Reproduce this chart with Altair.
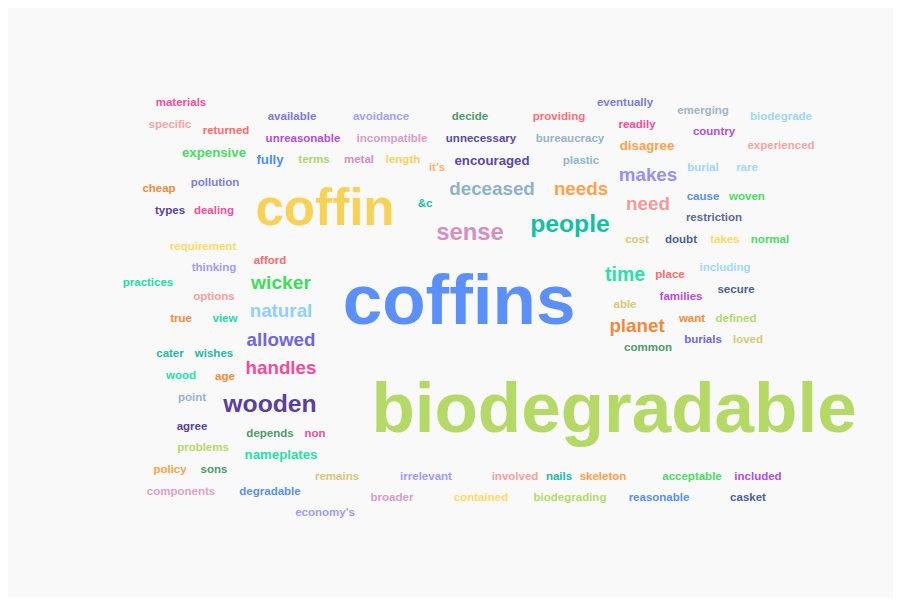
import altair as alt
import pandas as pd

words = [
    "coffins", "biodegradable", "coffin", "people", "sense", "wooden",
    "deceased", "needs", "makes", "need", "time", "planet",
    "wicker", "natural", "allowed", "handles",
    "expensive", "fully", "encouraged", "disagree", "nameplates",
    "materials", "specific", "returned", "cheap", "pollution", "types", "dealing",
    "available", "unreasonable", "terms", "metal", "length", "avoidance",
    "incompatible", "it's", "&c", "decide", "providing", "eventually", "readily",
    "unnecessary", "bureaucracy", "plastic", "emerging", "biodegrade", "country",
    "experienced", "burial", "rare", "cause", "woven", "restriction", "cost",
    "doubt", "takes", "normal", "requirement", "afford", "thinking", "practices",
    "options", "true", "view", "cater", "wishes", "wood", "age", "point",
    "agree", "depends", "non", "problems", "policy", "sons", "remains",
    "irrelevant", "components", "degradable", "broader", "economy's",
    "involved", "nails", "skeleton", "acceptable", "included", "contained",
    "biodegrading", "reasonable", "casket", "place", "including", "families",
    "secure", "able", "want", "defined", "burials", "loved", "common",
]

freq = [
    28, 28, 19, 7, 6.6, 7,
    4.3, 4.3, 4.3, 4.3, 4.6, 4.3,
    4.5, 4.3, 4.3, 4.3,
    1.8, 1.8, 1.8, 1.8, 1.8,
    1, 1, 1, 1, 1, 1, 1,
    1, 1, 1, 1, 1, 1,
    1, 1, 1, 1, 1, 1, 1,
    1, 1, 1, 1, 1, 1,
    1, 1, 1, 1, 1, 1, 1,
    1, 1, 1, 1, 1, 1, 1,
    1, 1, 1, 1, 1, 1, 1, 1,
    1, 1, 1, 1, 1, 1, 1,
    1, 1, 1, 1, 1,
    1, 1, 1, 1, 1, 1,
    1, 1, 1, 1, 1, 1,
    1, 1, 1, 1, 1, 1, 1,
]

xpos = [
    459, 614, 325, 570, 470, 270,
    492, 581, 648, 648, 625, 637,
    281, 281, 281, 281,
    214, 270, 492, 647, 281,
    181, 170, 226, 159, 215, 170, 214,
    292, 303, 314, 359, 403, 381,
    392, 437, 425, 470, 559, 625, 637,
    481, 570, 581, 703, 781, 714,
    781, 703, 747, 703, 747, 714, 637,
    681, 725, 770, 203, 270, 214, 148,
    214, 181, 225, 170, 214, 181, 225, 192,
    192, 270, 315, 203, 170, 214, 337,
    426, 181, 270, 392, 325,
    515, 559, 603, 692, 758, 481,
    570, 659, 748, 670, 725, 681,
    736, 625, 692, 736, 703, 748, 648,
]

ypos = [
    302, 410, 209, 224, 232, 404,
    188, 188, 174, 203, 274, 325,
    282, 310, 339, 367,
    152, 159, 160, 145, 454,
    102, 124, 130, 188, 182, 210, 210,
    116, 138, 159, 159, 159, 116,
    138, 167, 203, 116, 116, 102, 124,
    138, 138, 160, 110, 116, 131,
    145, 167, 167, 196, 196, 217, 239,
    239, 239, 239, 246, 260, 267, 282,
    296, 318, 318, 353, 353, 375, 376, 397,
    426, 433, 433, 447, 469, 469, 476,
    476, 491, 491, 497, 512,
    476, 476, 476, 476, 476, 497,
    497, 497, 497, 274, 267, 296,
    289, 304, 318, 318, 339, 339, 347,
]

colors = [
    "#5b8ff9", "#b5d966", "#f8d257", "#14bfa6", "#d690c0", "#5a3f9b",
    "#8fb2cc", "#ffa24e", "#9790f6", "#f59a98", "#28e0aa", "#f0893d",
    "#3ddc5a", "#8fd0ff", "#7067d8", "#f04d9a",
    "#4cd964", "#4f8ff7", "#5d48a2", "#ffa04c", "#26e0a8",
    "#f0509c", "#f7a5a0", "#ff6b6b", "#f08a3c", "#7a7fe0", "#5b3f99", "#f0509c",
    "#7b78d9", "#b24fd8", "#a8d86a", "#d48fc0", "#f7d060", "#a4a0f5",
    "#d99bc8", "#ffb26b", "#1bbfa5", "#4e9a6a", "#ff6e7a", "#7d7be6", "#f04d9a",
    "#5b4aa0", "#95b5cc", "#8fb6cc", "#9fb6c8", "#9fd4ff", "#b24fd8",
    "#f5a5a0", "#9fd4ff", "#a4d6ff", "#5b8ef5", "#4cd964", "#5a6b99", "#d6c87a",
    "#4e5f90", "#ffd966", "#4cd964", "#ffd966", "#ff6b6b", "#a09df5", "#26d9a8",
    "#f5a0a0", "#f08a3c", "#26d9a8", "#1fb8a5", "#1fb8a5", "#26e0a8", "#f08a3c", "#95b5cc",
    "#5b3f99", "#4e9a6a", "#f04d9a", "#b4d96a", "#ffa04c", "#4e9a6a", "#d6c87a",
    "#a09df5", "#e0a0c8", "#5b8ef5", "#d99bc8", "#a09df5",
    "#f5a0a0", "#1fb8a5", "#ffa04c", "#4cd964", "#b24fd8", "#ffd966",
    "#b4d96a", "#5b8ef5", "#4e5f90", "#ff6b6b", "#a4d6ff", "#b24fd8",
    "#4e5f90", "#d6c87a", "#f08a3c", "#b4d96a", "#7068d8", "#d6c87a", "#4e9a6a",
]

df = pd.DataFrame({"word": words, "freq": freq, "x": xpos, "y": ypos, "color": colors})

chart = (
    alt.Chart(df)
    .mark_text(font="Liberation Sans", fontWeight="bold", align="center", baseline="middle")
    .encode(
        x=alt.X("x:Q", scale=alt.Scale(domain=[8, 893]), axis=None),
        y=alt.Y("y:Q", scale=alt.Scale(domain=[7, 597], reverse=True), axis=None),
        text="word:N",
        size=alt.Size("freq:Q", scale=alt.Scale(domain=[1, 28], range=[11.5, 71]), legend=None),
        color=alt.Color("color:N", scale=None),
    )
    .properties(
        width=885,
        height=590,
        background="#f9f9f9",
        padding=0,
        autosize=alt.AutoSizeParams(type="fit", contains="padding"),
    )
    .configure_view(stroke=None)
)

chart.save("out.html", embed_options={"renderer": "svg", "actions": False})
